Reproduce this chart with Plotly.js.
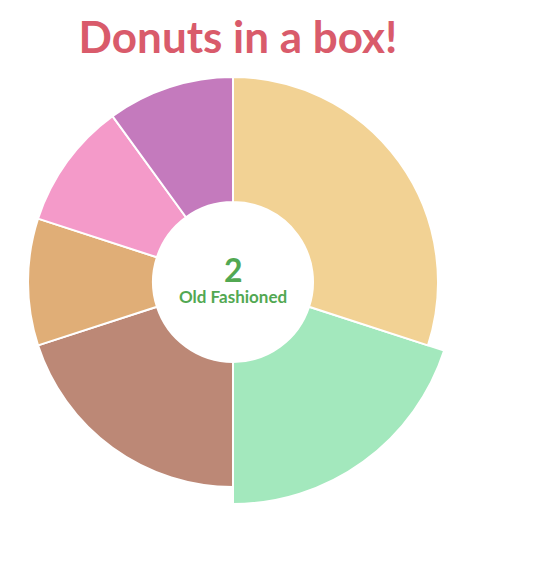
<!DOCTYPE html>
<html>
<head>
<meta charset="utf-8">
<script src="https://cdn.plot.ly/plotly-3.0.1.min.js"></script>
<style>html,body{margin:0;padding:0;background:#fff;}#chart{width:549px;height:561px;}</style>
</head>
<body>
<div id="chart"></div>
<script>
const donutNames = ["Glazed", "Old Fashioned", "Chocolate", "Maple", "Strawberry", "Ube"];
const donutCounts = [3, 2, 2, 1, 1, 1];
const donutColors = ["#f2d294", "#a3e8bd", "#bc8876", "#e0ae77", "#f49ac9", "#c47abd"];
const selectedName = "Old Fashioned";
const titleText = "Donuts in a box!";

const selIdx = donutNames.indexOf(selectedName);
const clear = "rgba(0,0,0,0)";
const highlightColors = donutColors.map((c, i) => i === selIdx ? c : clear);
const highlightLines = donutColors.map((c, i) => i === selIdx ? "#ffffff" : clear);
const baseColors = donutColors.map((c, i) => i === selIdx ? clear : c);
const baseLines = donutColors.map((c, i) => i === selIdx ? clear : "#ffffff");

const W = 549, H = 561, cx = 233, cy = 282, R = 205, Rsel = 222, Rin = 80;
function dom(r) {
  return {x: [(cx - r) / W, (cx + r) / W], y: [(H - cy - r) / H, (H - cy + r) / H]};
}

const base = {
  type: "pie", labels: donutNames, values: donutCounts, sort: false,
  direction: "clockwise", rotation: 0, textinfo: "none", hoverinfo: "label+value",
  showlegend: false
};

const traces = [
  Object.assign({}, base, {
    domain: dom(Rsel), hole: Rin / Rsel,
    marker: {colors: highlightColors, line: {color: highlightLines, width: 2}}
  }),
  Object.assign({}, base, {
    domain: dom(R), hole: Rin / R,
    marker: {colors: baseColors, line: {color: baseLines, width: 2}}
  })
];

const layout = {
  width: W, height: H,
  margin: {l: 0, r: 0, t: 0, b: 0},
  paper_bgcolor: "#ffffff",
  showlegend: false,
  title: {
    text: "<b>" + titleText + "</b>", x: 238 / W, xanchor: "center", y: 1 - 38 / H, yanchor: "middle",
    font: {family: "Lato, 'Open Sans', sans-serif", size: 44, color: "#d95b6b"}
  },
  annotations: [
    {text: "<b>" + donutCounts[selIdx] + "</b>", x: cx / W, y: 1 - 269 / H, xref: "paper", yref: "paper",
     showarrow: false, font: {family: "Lato, sans-serif", size: 32, color: "#52a852"}},
    {text: "<b>" + selectedName + "</b>", x: cx / W, y: 1 - 296 / H, xref: "paper", yref: "paper",
     showarrow: false, font: {family: "Lato, sans-serif", size: 17, color: "#52a852"}}
  ]
};

Plotly.newPlot("chart", traces, layout, {displayModeBar: false});
</script>
</body>
</html>
